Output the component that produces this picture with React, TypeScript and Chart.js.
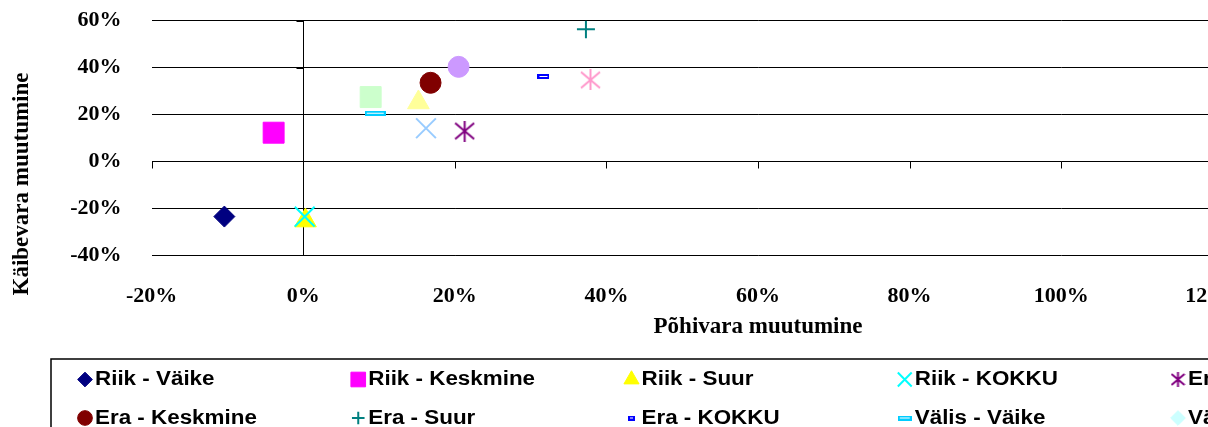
import React, { useEffect, useRef } from 'react';
import { Chart, registerables } from 'chart.js';
import { drawPoint } from 'chart.js/helpers';

Chart.register(...registerables);

// ---- data ----
const seriesNames = [
  'Riik - Väike', 'Riik - Keskmine', 'Riik - Suur', 'Riik - KOKKU',
  'Era - Väike', 'Era - Keskmine', 'Era - Suur', 'Era - KOKKU',
  'Välis - Väike', 'Välis - Keskmine', 'Välis - Suur', 'Välis - KOKKU',
  'KOKKU - Väike', 'KOKKU - Keskmine', 'KOKKU - Suur',
];
// Põhivara muutumine (x, %)
const pohivaraMuutus: (number | null)[] = [
  -10.4, -3.9, 0.3, 0.2,
  21.3, 16.8, 37.3, 31.7,
  9.5, null, 8.9, 15.2,
  16.2, 37.9, 20.5,
];
// Käibevara muutumine (y, %)
const kaibevaraMuutus: (number | null)[] = [
  -23.6, 12.2, -25.3, -23.6,
  12.9, 33.5, 56.3, 36.2,
  20.5, null, 27.4, 25.1,
  14.1, 34.7, 40.3,
];
const seriesColors = [
  '#000080', '#FF00FF', '#FFFF00', '#00FFFF',
  '#800080', '#800000', '#008080', '#0000FF',
  '#00CCFF', '#CCFFFF', '#CCFFCC', '#FFFF99',
  '#99CCFF', '#FF99CC', '#CC99FF',
];
const markerKinds = [
  'diamond', 'square', 'triangle', 'x',
  'asterisk', 'circle', 'plus', 'shortDash',
  'longDash', 'diamond', 'square', 'triangle',
  'x', 'asterisk', 'circle',
];
const xTickValues = [-20, 0, 20, 40, 60, 80, 100, 120, 140];
const yTickValues = [-40, -20, 0, 20, 40, 60];
const xTitle = 'Põhivara muutumine';
const yTitle = 'Käibevara muutumine';

// ---- layout constants ----
const CANVAS_W = 1440;
const CANVAS_H = 520;
const AREA_LEFT = 151.6;
const AREA_RIGHT = 1364.4;
const AREA_TOP = 20.7;
const AREA_BOTTOM = 255;
const X_AXIS_H = 100;
const SERIF = '"Liberation Serif", "Times New Roman", serif';
const SANS = '"Liberation Sans", Arial, sans-serif';

function dashImage(w: number, h: number, color: string) {
  const c = document.createElement('canvas');
  c.width = w;
  c.height = h;
  const g = c.getContext('2d')!;
  g.fillStyle = color;
  g.fillRect(0, 0, w, h);
  if (w > 4 && h > 4) {
    g.fillStyle = '#fff';
    g.fillRect(2, 2, w - 4, h - 4);
  }
  return c;
}

function asteriskImage(s: number, color: string) {
  const c = document.createElement('canvas');
  c.width = s;
  c.height = s;
  const g = c.getContext('2d')!;
  g.strokeStyle = color;
  g.lineWidth = 2;
  const m = s / 2;
  const d = s / 2 - 1;
  g.beginPath();
  g.moveTo(m, 0);
  g.lineTo(m, s);
  g.moveTo(m - d, m - d * 0.85);
  g.lineTo(m + d, m + d * 0.85);
  g.moveTo(m + d, m - d * 0.85);
  g.lineTo(m - d, m + d * 0.85);
  g.stroke();
  return c;
}

function markerStyle(kind: string, color: string, legend: boolean): any {
  const k = legend ? 0.7 : 1;
  switch (kind) {
    case 'diamond': return { pointStyle: 'rectRot', radius: 10.5 * k, borderWidth: 1 };
    case 'square': return { pointStyle: 'rect', radius: 14.8 * k, borderWidth: 1 };
    case 'triangle': return { pointStyle: 'triangle', radius: 12.5 * k, borderWidth: 1 };
    case 'x': return { pointStyle: 'crossRot', radius: 14 * k, borderWidth: 2 };
    case 'plus': return { pointStyle: 'cross', radius: 9 * k, borderWidth: 2 };
    case 'circle': return { pointStyle: 'circle', radius: 10.5 * k, borderWidth: 1 };
    case 'asterisk': return { pointStyle: asteriskImage(legend ? 15 : 21, color), radius: 10 * k, borderWidth: 0 };
    case 'shortDash': return { pointStyle: dashImage(legend ? 7 : 12, 5, color), radius: 6 * k, borderWidth: 0 };
    case 'longDash': return { pointStyle: dashImage(legend ? 14 : 21, 5, color), radius: 10 * k, borderWidth: 0 };
    default: return { pointStyle: 'circle', radius: 8 * k, borderWidth: 1 };
  }
}

const axisPlugin = {
  id: 'crossAxisTicks',
  beforeDatasetsDraw(chart: any) {
    const { ctx, scales } = chart;
    const xs = scales.x;
    const ys = scales.y;
    const x0 = Math.round(xs.getPixelForValue(0)) + 0.5;
    const y0 = Math.round(ys.getPixelForValue(0)) + 0.5;
    ctx.save();
    ctx.strokeStyle = '#000';
    ctx.lineWidth = 1;
    ctx.beginPath();
    xTickValues.forEach((v) => {
      const px = Math.round(xs.getPixelForValue(v)) + 0.5;
      ctx.moveTo(px, y0);
      ctx.lineTo(px, y0 + 7);
    });
    yTickValues.forEach((v) => {
      const py = Math.round(ys.getPixelForValue(v)) + 0.5;
      ctx.moveTo(x0 - 7, py);
      ctx.lineTo(x0, py);
    });
    ctx.stroke();
    ctx.restore();
  },
  afterDraw(chart: any) {
    const { ctx } = chart;
    // y axis title
    ctx.save();
    ctx.translate(22.5, 184);
    ctx.rotate(-Math.PI / 2);
    ctx.font = `bold 23px ${SERIF}`;
    ctx.fillStyle = '#000';
    ctx.textAlign = 'center';
    ctx.textBaseline = 'middle';
    ctx.fillText(yTitle, 0, 0);
    ctx.restore();
  },
};

const legendPlugin = {
  id: 'gridLegend',
  afterDraw(chart: any) {
    const { ctx } = chart;
    ctx.save();
    ctx.strokeStyle = '#000';
    ctx.lineWidth = 1.5;
    ctx.strokeRect(51, 359, CANVAS_W, 300);
    seriesNames.forEach((name, i) => {
      const col = i % 5;
      const row = Math.floor(i / 5);
      const mx = 85 + col * 273.25;
      const my = 379.5 + row * 38.5;
      const color = seriesColors[i];
      const m = markerStyle(markerKinds[i], color, true);
      ctx.save();
      ctx.fillStyle = color;
      ctx.strokeStyle = color;
      ctx.lineWidth = m.borderWidth;
      drawPoint(ctx, { pointStyle: m.pointStyle, radius: m.radius, rotation: 0, borderWidth: m.borderWidth }, mx, my);
      ctx.restore();
      ctx.save();
      ctx.translate(mx + 10, my);
      ctx.scale(1.12, 1);
      ctx.font = `bold 20px ${SANS}`;
      ctx.textBaseline = 'middle';
      ctx.textAlign = 'left';
      ctx.fillStyle = '#000';
      ctx.fillText(name, 0, 0);
      ctx.restore();
    });
    ctx.restore();
  },
};

export default function App() {
  const ref = useRef<HTMLCanvasElement>(null);
  useEffect(() => {
    const canvas = ref.current!;
    const datasets = seriesNames.map((name, i) => {
      const m = markerStyle(markerKinds[i], seriesColors[i], false);
      const x = pohivaraMuutus[i];
      const y = kaibevaraMuutus[i];
      return {
        label: name,
        data: x == null || y == null ? [] : [{ x, y }],
        pointStyle: m.pointStyle,
        pointRadius: m.radius,
        pointHoverRadius: m.radius,
        pointBorderWidth: m.borderWidth,
        pointBackgroundColor: seriesColors[i],
        pointBorderColor: seriesColors[i],
        showLine: false,
        order: seriesNames.length - i,
      };
    });
    const tickFont = { family: SERIF, size: 22, weight: 'bold' as const };
    const chart = new Chart(canvas, {
      type: 'scatter',
      data: { datasets },
      options: {
        responsive: false,
        animation: false,
        devicePixelRatio: 1,
        events: [],
        layout: {
          padding: {
            left: 0,
            top: AREA_TOP,
            right: CANVAS_W - AREA_RIGHT,
            bottom: CANVAS_H - AREA_BOTTOM - X_AXIS_H,
          },
        },
        plugins: {
          legend: { display: false },
          tooltip: { enabled: false },
        },
        scales: {
          x: {
            type: 'linear',
            min: -20,
            max: 140,
            afterBuildTicks: (s: any) => { s.ticks = xTickValues.map((v) => ({ value: v })); },
            afterFit: (s: any) => { s.height = X_AXIS_H; },
            ticks: {
              callback: (v: any) => `${v}%`,
              font: tickFont,
              color: '#000',
              padding: 28.4,
              maxRotation: 0,
              autoSkip: false,
            },
            grid: {
              color: (c: any) => (c.tick && c.tick.value === 0 ? '#000' : 'rgba(0,0,0,0)'),
              lineWidth: 1,
              drawTicks: false,
            },
            border: { display: false },
            title: {
              display: true,
              text: xTitle,
              color: '#000',
              font: { family: SERIF, size: 23, weight: 'bold' },
              padding: { top: 0, bottom: 13.8 },
            },
          },
          y: {
            type: 'linear',
            min: -40,
            max: 60,
            afterBuildTicks: (s: any) => { s.ticks = yTickValues.map((v) => ({ value: v })); },
            afterFit: (s: any) => { s.width = AREA_LEFT; },
            ticks: {
              callback: (v: any) => `${v}%`,
              font: tickFont,
              color: '#000',
              padding: 0,
              autoSkip: false,
            },
            grid: {
              color: '#000',
              lineWidth: 1,
              drawTicks: true,
              tickLength: 30,
              tickColor: 'rgba(0,0,0,0)',
            },
            border: { display: false },
          },
        },
      },
      plugins: [axisPlugin, legendPlugin],
    } as any);
    return () => chart.destroy();
  }, []);
  return (
    <div style={{ position: 'fixed', left: 0, top: 0, width: 1208, height: 427, overflow: 'hidden', background: '#fff' }}>
      <canvas ref={ref} width={CANVAS_W} height={CANVAS_H} style={{ display: 'block' }} />
    </div>
  );
}
